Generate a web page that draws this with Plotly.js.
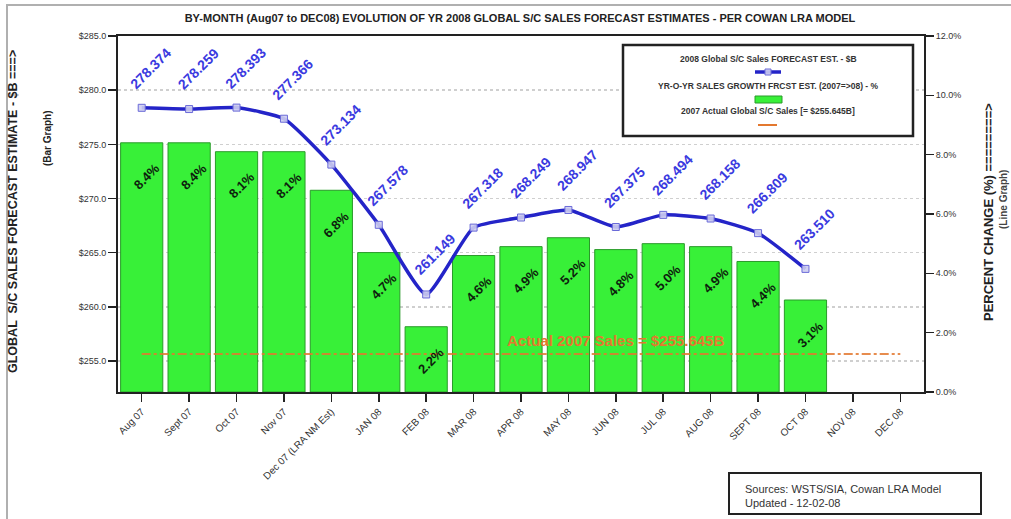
<!DOCTYPE html>
<html>
<head>
<meta charset="utf-8">
<script src="https://cdn.plot.ly/plotly-3.0.1.min.js"></script>
<style>
  html, body { margin: 0; padding: 0; background: #fff; }
  #chart { width: 1011px; height: 519px; }
</style>
</head>
<body>
<div id="chart"></div>
<script>
// Month categories on the x axis
const months = ['Aug 07', 'Sept 07', 'Oct 07', 'Nov 07', 'Dec 07 (LRA NM Est)', 'JAN 08', 'FEB 08',
  'MAR 08', 'APR 08', 'MAY 08', 'JUN 08', 'JUL 08', 'AUG 08', 'SEPT 08', 'OCT 08', 'NOV 08', 'DEC 08'];

// 2008 global S/C sales forecast, $B (line, left axis)
const forecastB = [278.374, 278.259, 278.393, 277.366, 273.134, 267.578, 261.149, 267.318,
  268.249, 268.947, 267.375, 268.494, 268.158, 266.809, 263.510];

// Year-over-year growth forecast 2007=>08, % (bars, right axis)
const growthPct = [8.4, 8.4, 8.1, 8.1, 6.8, 4.7, 2.2, 4.6, 4.9, 5.2, 4.8, 5.0, 4.9, 4.4, 3.1];

// 2007 actual global S/C sales, $B
const actual2007 = 255.645;

// Pixel helpers for placing layout furniture (plot area 118..924 x 36..392)
const PL = 118, PR = 924, PT = 36, PB = 392;
const px = v => (v - PL) / (PR - PL);
const py = v => (PB - v) / (PB - PT);

const FONT = 'Liberation Sans, Arial, sans-serif';
const BLUE = '#2424c8';
const LABEL_BLUE = '#3a3ae0';
const GREEN = '#38f038';
const ORANGE = '#e3782f';

const barMonths = months.slice(0, growthPct.length);
const lineMonths = months.slice(0, forecastB.length);

const traces = [
  {
    type: 'bar',
    x: barMonths,
    y: growthPct,
    yaxis: 'y',
    marker: { color: GREEN, line: { color: '#2a9a2a', width: 1 } },
    hoverinfo: 'x+y',
    showlegend: false
  },
  {
    type: 'scatter',
    mode: 'lines',
    x: months,
    y: months.map(() => actual2007),
    yaxis: 'y2',
    line: { color: ORANGE, width: 2, dash: 'dashdot' },
    opacity: 0.85,
    hoverinfo: 'skip',
    showlegend: false
  },
  {
    type: 'scatter',
    mode: 'lines+markers',
    x: lineMonths,
    y: forecastB,
    yaxis: 'y2',
    line: { color: BLUE, width: 3.5, shape: 'spline', smoothing: 0.5 },
    marker: { symbol: 'square', size: 7, color: 'rgba(205,205,240,0.9)', line: { color: '#6a6ad8', width: 1 } },
    showlegend: false
  }
];

const annotations = [];

// Value labels over the forecast line
forecastB.forEach((v, i) => {
  annotations.push({
    xref: 'x', yref: 'y2', x: lineMonths[i], y: v,
    text: '<b>' + v.toFixed(3) + '</b>',
    showarrow: false, textangle: -45,
    xanchor: 'center', yanchor: 'middle',
    xshift: 9, yshift: 40,
    font: { family: FONT, size: 14, color: LABEL_BLUE }
  });
});

// Growth labels inside the bars
growthPct.forEach((v, i) => {
  annotations.push({
    xref: 'x', yref: 'y', x: barMonths[i], y: v,
    text: '<b>' + v.toFixed(1) + '%</b>',
    showarrow: false, textangle: -45,
    xanchor: 'center', yanchor: 'middle',
    xshift: 5, yshift: -34,
    font: { family: FONT, size: 13, color: '#0d1f0d' }
  });
});

// Reference line caption
annotations.push({
  xref: 'x', yref: 'y2', x: 'JUN 08', y: actual2007,
  text: '<b>Actual 2007 Sales = $' + actual2007.toFixed(3) + 'B</b>',
  showarrow: false, xanchor: 'center', yanchor: 'middle', yshift: 14,
  font: { family: FONT, size: 15, color: ORANGE }
});

// Axis titles
annotations.push(
  { xref: 'paper', yref: 'paper', x: px(13), y: py(212), textangle: -90, showarrow: false,
    xanchor: 'center', yanchor: 'middle',
    text: '<b>GLOBAL  S/C SALES FORECAST ESTIMATE - $B ===></b>',
    font: { family: FONT, size: 12.5, color: '#222' } },
  { xref: 'paper', yref: 'paper', x: px(47), y: py(138), textangle: -90, showarrow: false,
    xanchor: 'center', yanchor: 'middle',
    text: '<b>(Bar Graph)</b>',
    font: { family: FONT, size: 10, color: '#222' } },
  { xref: 'paper', yref: 'paper', x: px(988), y: py(212), textangle: -90, showarrow: false,
    xanchor: 'center', yanchor: 'middle',
    text: '<b>PERCENT CHANGE (%) ========></b>',
    font: { family: FONT, size: 13, color: '#222' } },
  { xref: 'paper', yref: 'paper', x: px(1003), y: py(200), textangle: -90, showarrow: false,
    xanchor: 'center', yanchor: 'middle',
    text: '<b>(Line Graph)</b>',
    font: { family: FONT, size: 10, color: '#444' } }
);

// Legend block text
const legendText = [
  ['2008 Global S/C Sales FORECAST EST. - $B', 59],
  ['YR-O-YR SALES GROWTH FRCST EST. (2007=>08) - %', 86],
  ['2007 Actual Global S/C Sales [= $' + actual2007.toFixed(3) + 'B]', 111]
];
legendText.forEach(([t, y]) => {
  annotations.push({
    xref: 'paper', yref: 'paper', x: px(768), y: py(y), showarrow: false,
    xanchor: 'center', yanchor: 'middle',
    text: '<b>' + t + '</b>',
    font: { family: FONT, size: 8.5, color: '#333' }
  });
});

// Source note
annotations.push({
  xref: 'paper', yref: 'paper', x: px(743), y: py(496), showarrow: false,
  xanchor: 'left', yanchor: 'middle', align: 'left',
  text: 'Sources: WSTS/SIA, Cowan LRA Model<br>Updated - 12-02-08',
  font: { family: FONT, size: 11, color: '#333' }
});

const shapes = [
  // outer frame
  { type: 'rect', xref: 'paper', yref: 'paper', x0: px(7), x1: px(1040), y0: py(5), y1: py(560),
    line: { color: '#b0b0b0', width: 2 }, layer: 'below' },
  // legend frame
  { type: 'rect', xref: 'paper', yref: 'paper', x0: px(623), x1: px(913), y0: py(45), y1: py(136),
    fillcolor: '#fff', line: { color: '#222', width: 2.5 } },
  // legend symbol: forecast line
  { type: 'line', xref: 'paper', yref: 'paper', x0: px(755), x1: px(781), y0: py(72), y1: py(72),
    line: { color: BLUE, width: 3.5 } },
  { type: 'rect', xref: 'paper', yref: 'paper', x0: px(765), x1: px(771), y0: py(69), y1: py(75),
    fillcolor: 'rgba(205,205,240,0.9)', line: { color: '#6a6ad8', width: 1 } },
  // legend symbol: growth bars
  { type: 'rect', xref: 'paper', yref: 'paper', x0: px(755), x1: px(782), y0: py(96), y1: py(103),
    fillcolor: GREEN, line: { color: '#2a9a2a', width: 1 } },
  // legend symbol: actual line
  { type: 'line', xref: 'paper', yref: 'paper', x0: px(758), x1: px(777), y0: py(125), y1: py(125),
    line: { color: ORANGE, width: 2 } },
  // source frame
  { type: 'rect', xref: 'paper', yref: 'paper', x0: px(729), x1: px(981), y0: py(473), y1: py(514),
    line: { color: '#222', width: 2 } }
];

const tickFont = { family: FONT, size: 9, color: '#333' };

const layout = {
  width: 1011,
  height: 519,
  margin: { l: PL, r: 1011 - PR, t: PT, b: 519 - PB, pad: 0 },
  paper_bgcolor: '#fff',
  plot_bgcolor: '#fff',
  bargap: 0.11,
  title: {
    text: '<b>BY-MONTH (Aug07 to DEC08) EVOLUTION OF YR 2008 GLOBAL S/C SALES FORECAST ESTIMATES - PER COWAN LRA MODEL</b>',
    x: px(520), xref: 'paper', xanchor: 'center',
    y: 1 - 18 / 519, yanchor: 'middle',
    font: { family: FONT, size: 11, color: '#222' }
  },
  xaxis: {
    type: 'category',
    categoryorder: 'array', categoryarray: months,
    range: [-0.5, months.length - 0.5],
    tickangle: -45,
    ticks: 'outside', ticklen: 8, tickwidth: 1.5, tickcolor: '#222',
    showline: true, linecolor: '#222', linewidth: 2, mirror: true,
    showgrid: false,
    tickfont: { family: FONT, size: 10, color: '#333' }
  },
  yaxis: {
    side: 'right',
    range: [0, 12], dtick: 2, tick0: 0,
    tickformat: '.1f', ticksuffix: '%',
    ticks: 'outside', ticklen: 8, tickwidth: 1.5, tickcolor: '#222',
    showline: true, linecolor: '#222', linewidth: 2,
    showgrid: false, zeroline: false,
    tickfont: tickFont
  },
  yaxis2: {
    overlaying: 'y', side: 'left',
    range: [252.15, 285], tick0: 255, dtick: 5,
    tickformat: '.1f', tickprefix: '$',
    ticks: 'outside', ticklen: 8, tickwidth: 1.5, tickcolor: '#222',
    showline: true, linecolor: '#222', linewidth: 2,
    showgrid: true, gridcolor: '#cfcfcf', gridwidth: 1.5, griddash: 'dot',
    zeroline: false,
    tickfont: tickFont
  },
  annotations: annotations,
  shapes: shapes
};

Plotly.newPlot('chart', traces, layout, { displayModeBar: false, staticPlot: true });
</script>
</body>
</html>
